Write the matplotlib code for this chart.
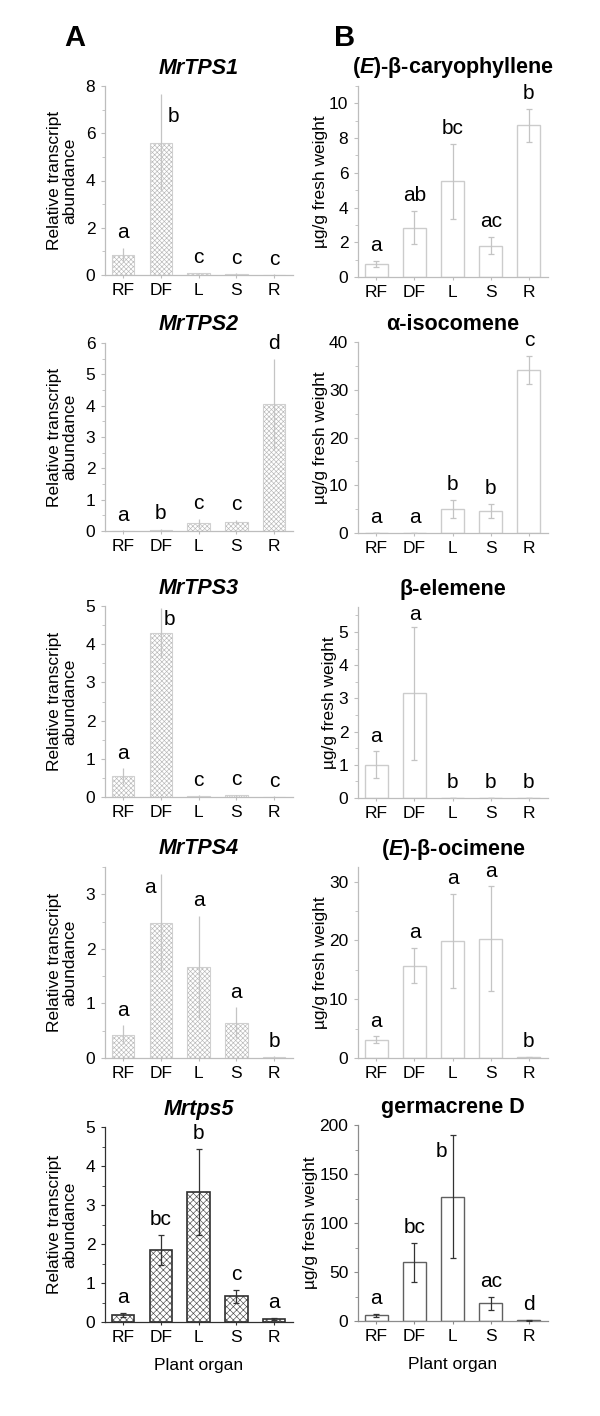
import matplotlib
matplotlib.use("Agg")
import matplotlib.pyplot as plt
from matplotlib.ticker import MultipleLocator, AutoMinorLocator

plt.rcParams["font.family"] = ["Liberation Sans", "DejaVu Sans"]
plt.rcParams["mathtext.fontset"] = "custom"
plt.rcParams["mathtext.it"] = "Liberation Sans:bold:italic"
plt.rcParams["mathtext.rm"] = "Liberation Sans:bold"
plt.rcParams["hatch.linewidth"] = 0.45

organs = ["RF", "DF", "L", "S", "R"]

# --- A: relative transcript abundance ---
tps1 = [0.85, 5.6, 0.07, 0.05, 0.02]
tps1_err = [0.3, 2.05, 0.03, 0.02, 0.01]
tps1_let = ["a", "b", "c", "c", "c"]

tps2 = [0.01, 0.04, 0.25, 0.28, 4.05]
tps2_err = [0.01, 0.02, 0.13, 0.07, 1.45]
tps2_let = ["a", "b", "c", "c", "d"]

tps3 = [0.55, 4.3, 0.03, 0.04, 0.01]
tps3_err = [0.2, 0.65, 0.01, 0.02, 0.01]
tps3_let = ["a", "b", "c", "c", "c"]

tps4 = [0.43, 2.48, 1.67, 0.65, 0.02]
tps4_err = [0.17, 0.89, 0.93, 0.28, 0.01]
tps4_let = ["a", "a", "a", "a", "b"]

tps5 = [0.18, 1.85, 3.33, 0.66, 0.08]
tps5_err = [0.05, 0.38, 1.1, 0.17, 0.03]
tps5_let = ["a", "bc", "b", "c", "a"]

# --- B: terpene content, ug/g fresh weight ---
caryo = [0.75, 2.85, 5.5, 1.8, 8.75]
caryo_err = [0.18, 0.95, 2.15, 0.5, 0.95]
caryo_let = ["a", "ab", "bc", "ac", "b"]

isocom = [0.0, 0.0, 5.0, 4.6, 34.2]
isocom_err = [0.0, 0.0, 1.9, 1.5, 2.9]
isocom_let = ["a", "a", "b", "b", "c"]

elem = [1.0, 3.15, 0.0, 0.0, 0.0]
elem_err = [0.4, 2.0, 0.0, 0.0, 0.0]
elem_let = ["a", "a", "b", "b", "b"]

ocim = [3.1, 15.7, 19.9, 20.3, 0.1]
ocim_err = [0.6, 3.0, 8.0, 8.9, 0.05]
ocim_let = ["a", "a", "a", "a", "b"]

germ = [6.0, 60.0, 127.0, 18.0, 1.0]
germ_err = [1.5, 20.0, 63.0, 7.0, 0.5]
germ_let = ["a", "bc", "b", "ac", "d"]

W, H = 600, 1416
fig = plt.figure(figsize=(W / 100, H / 100), dpi=100)

# (values, errors, letters, title, ylim, major step, axes box top/bottom px)
left = [
    (tps1, tps1_err, tps1_let, "MrTPS1", 8, 2, 86, 275),
    (tps2, tps2_err, tps2_let, "MrTPS2", 6, 1, 343, 531),
    (tps3, tps3_err, tps3_let, "MrTPS3", 5, 1, 606, 797),
    (tps4, tps4_err, tps4_let, "MrTPS4", 3.5, 1, 867, 1058),
    (tps5, tps5_err, tps5_let, "Mrtps5", 5, 1, 1127, 1322),
]
right = [
    (caryo, caryo_err, caryo_let, r"($\mathit{E}$)-β-caryophyllene", 11, 2, 86, 277),
    (isocom, isocom_err, isocom_let, "α-isocomene", 40, 10, 342, 533),
    (elem, elem_err, elem_let, "β-elemene", 5.75, 1, 607, 798),
    (ocim, ocim_err, ocim_let, r"($\mathit{E}$)-β-ocimene", 32.5, 10, 867, 1058),
    (germ, germ_err, germ_let, "germacrene D", 200, 50, 1125, 1321),
]

# letters that sit beside the error bar instead of above it: (dx, y)
beside = {
    ("L", 0, 1): (0.32, 6.3),
    ("L", 2, 1): (0.22, 4.4),
    ("L", 3, 1): (-0.28, 2.95),
    ("R", 2, 1): (0.0, 5.25),
    ("R", 4, 2): (-0.28, 163),
}


def panel(side, k, spec):
    vals, errs, lets, title, ytop, step, top, bot = spec
    x0, x1 = (105, 293) if side == "L" else (358, 548)
    ax = fig.add_axes([x0 / W, 1 - bot / H, (x1 - x0) / W, (bot - top) / H])
    last = k == 4
    x = range(len(organs))
    if side == "L":
        hc = "#4a4a4a" if last else "#b8b8b8"
        ec = "#303030" if last else "#d0d0d0"
        ax.bar(x, vals, width=0.6, color="white", edgecolor=hc,
               hatch="xxxxx" if last else "xxxxxxx", lw=0, zorder=2)
        ax.bar(x, vals, width=0.6, fill=False, edgecolor=ec,
               lw=1.2 if last else 0.8, zorder=3)
    else:
        ec = "#606060" if last else "#cccccc"
        ax.bar(x, vals, width=0.6, color="white", edgecolor=ec,
               lw=1.0, zorder=2)
    errc = "#333333" if last else "#c4c4c4"
    ax.errorbar(x, vals, yerr=errs, fmt="none", ecolor=errc,
                elinewidth=0.9, capsize=2 if (last or side == "R") else 0,
                capthick=0.9, zorder=4)
    for i, (v, e, t) in enumerate(zip(vals, errs, lets)):
        if (side, k, i) in beside:
            dx, y = beside[(side, k, i)]
        else:
            dx, y = 0, v + e + 0.03 * ytop
        ax.text(i + dx, y, t, ha="center", va="bottom", fontsize=15,
                color="black", zorder=5)
    ax.set_xlim(-0.48, 4.5)
    ax.set_ylim(0, ytop)
    ax.yaxis.set_major_locator(MultipleLocator(step))
    ax.yaxis.set_minor_locator(AutoMinorLocator(2))
    ax.set_xticks(list(x))
    ax.set_xticklabels(organs)
    for s in ("top", "right"):
        ax.spines[s].set_visible(False)
    spc = "#303030" if (last and side == "L") else "#8c8c8c" if last else "#bdbdbd"
    for s in ("left", "bottom"):
        ax.spines[s].set_color(spc)
        ax.spines[s].set_linewidth(0.9)
    ax.tick_params(axis="both", which="major", labelsize=12.5, length=3,
                   color=spc, pad=4)
    ax.tick_params(axis="y", which="minor", length=2, color=spc)
    ax.tick_params(axis="x", length=2)
    ax.set_title(title, fontsize=15.5, fontweight="bold",
                 fontstyle="italic" if side == "L" else "normal", pad=9)
    if side == "L":
        ax.set_ylabel("Relative transcript\nabundance", fontsize=12.5,
                      linespacing=1.05, labelpad=6)
    else:
        ax.set_ylabel("µg/g fresh weight", fontsize=12.5, labelpad=1)
    if last:
        ax.set_xlabel("Plant organ", fontsize=12.5, labelpad=9)
    return ax


for k, spec in enumerate(left):
    panel("L", k, spec)
for k, spec in enumerate(right):
    panel("R", k, spec)

fig.text(75 / W, 1 - 38 / H, "A", fontsize=21, fontweight="bold",
         ha="center", va="center")
fig.text(345 / W, 1 - 38 / H, "B", fontsize=21, fontweight="bold",
         ha="center", va="center")

fig.savefig("out.png", dpi=100, facecolor="white")
